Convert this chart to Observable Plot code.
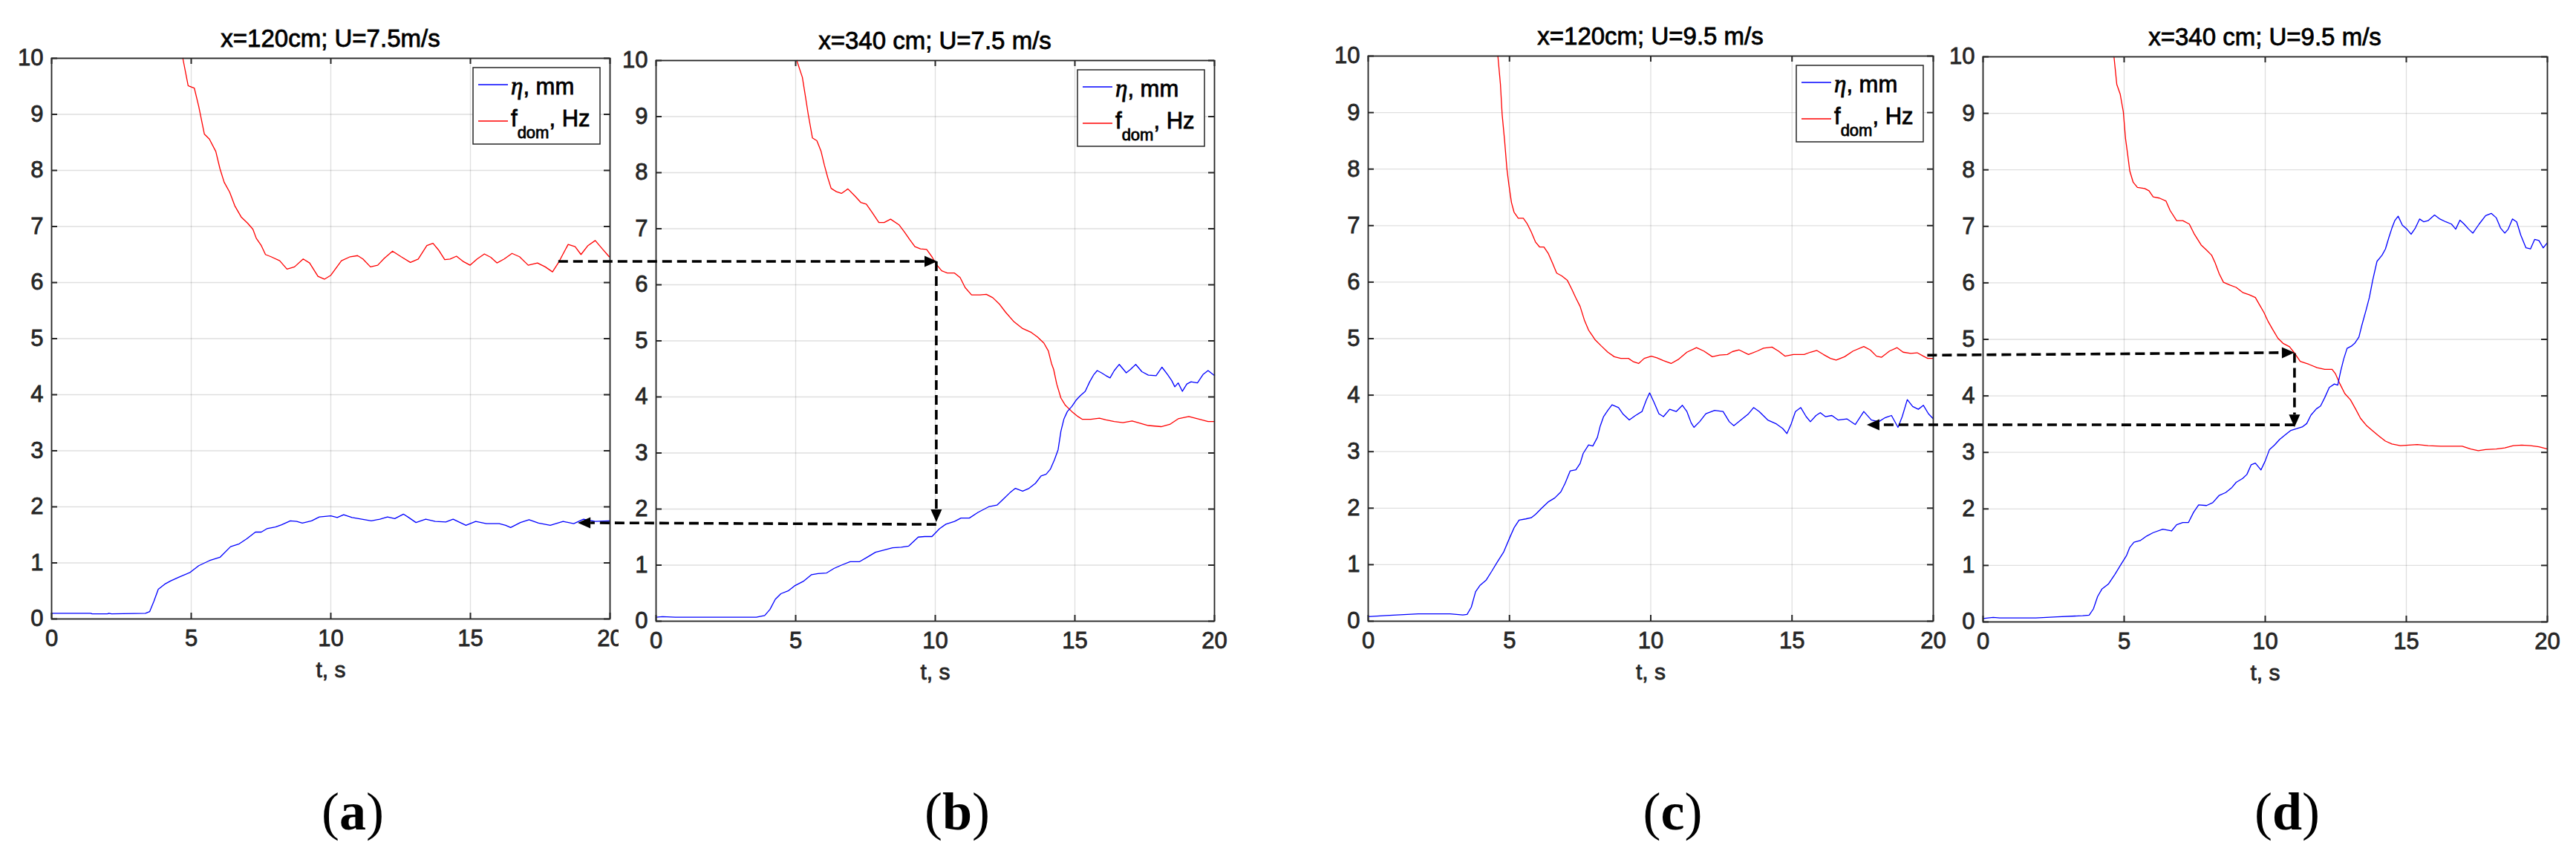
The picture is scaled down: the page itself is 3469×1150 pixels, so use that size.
<!DOCTYPE html>
<html>
<head>
<meta charset="utf-8">
<script src="https://cdn.jsdelivr.net/npm/d3@7"></script>
<script src="https://cdn.jsdelivr.net/npm/@observablehq/plot@0.6"></script>
<style>
  html, body { margin: 0; padding: 0; background: #fff; }
  #root { position: relative; width: 3469px; height: 1150px; overflow: hidden; background: #fff; }
  #root > svg { position: absolute; top: 0; }
</style>
</head>
<body>
<div id="root"></div>
<script>
// ---------------- DATA (t in s, value) ----------------
const titles = ["x=120cm; U=7.5m/s", "x=340 cm; U=7.5 m/s", "x=120cm; U=9.5 m/s", "x=340 cm; U=9.5 m/s"];
const panelLabels = ["a", "b", "c", "d"];
const xTicks = [0, 5, 10, 15, 20];
const yTicks = [0, 1, 2, 3, 4, 5, 6, 7, 8, 9, 10];

const a_f = [[4.70,10],[4.89,9.51],[5.11,9.47],[5.27,9.14],[5.47,8.65],[5.65,8.56],[5.88,8.34],[6.03,8.03],[6.18,7.79],[6.38,7.61],[6.56,7.37],[6.79,7.17],[7.02,7.06],[7.21,6.95],[7.33,6.79],[7.51,6.66],[7.66,6.50],[7.86,6.46],[8.17,6.39],[8.43,6.24],[8.70,6.28],[9.01,6.42],[9.24,6.35],[9.54,6.11],[9.77,6.06],[10.0,6.13],[10.38,6.39],[10.69,6.46],[10.96,6.48],[11.15,6.42],[11.42,6.28],[11.68,6.31],[11.91,6.43],[12.21,6.56],[12.52,6.46],[12.85,6.36],[13.13,6.42],[13.44,6.66],[13.66,6.70],[13.86,6.58],[14.08,6.41],[14.27,6.42],[14.50,6.47],[14.73,6.38],[14.99,6.31],[15.24,6.42],[15.50,6.51],[15.73,6.45],[15.95,6.35],[16.21,6.42],[16.49,6.52],[16.76,6.46],[17.07,6.31],[17.40,6.35],[17.68,6.28],[17.94,6.19],[18.17,6.37],[18.50,6.68],[18.75,6.64],[18.96,6.50],[19.21,6.66],[19.47,6.75],[19.69,6.62],[19.97,6.46]];
const a_eta = [[0,0.10],[1.4,0.10],[1.45,0.09],[2.0,0.09],[2.05,0.10],[2.15,0.09],[3.36,0.10],[3.51,0.13],[3.66,0.31],[3.82,0.53],[4.05,0.62],[4.27,0.68],[4.58,0.75],[4.96,0.83],[5.27,0.95],[5.65,1.04],[6.03,1.10],[6.41,1.29],[6.72,1.34],[6.99,1.43],[7.30,1.55],[7.51,1.55],[7.71,1.61],[8.02,1.64],[8.24,1.68],[8.55,1.75],[8.78,1.74],[8.98,1.71],[9.31,1.75],[9.59,1.82],[10.0,1.84],[10.23,1.81],[10.46,1.86],[10.76,1.81],[11.11,1.78],[11.45,1.75],[11.76,1.78],[12.03,1.82],[12.29,1.79],[12.60,1.87],[12.79,1.81],[13.05,1.72],[13.40,1.78],[13.74,1.74],[14.12,1.73],[14.38,1.78],[14.63,1.72],[14.84,1.67],[15.19,1.74],[15.57,1.70],[16.03,1.70],[16.26,1.67],[16.44,1.63],[16.79,1.72],[17.10,1.77],[17.44,1.71],[17.86,1.67],[18.32,1.74],[18.70,1.70],[19.05,1.78],[19.47,1.74],[19.97,1.75]];

const b_f = [[5.04,10],[5.24,9.70],[5.34,9.39],[5.45,9.04],[5.60,8.62],[5.76,8.57],[5.91,8.38],[6.03,8.13],[6.15,7.91],[6.27,7.72],[6.46,7.66],[6.64,7.63],[6.87,7.71],[7.13,7.58],[7.33,7.47],[7.53,7.44],[7.74,7.29],[7.98,7.11],[8.17,7.11],[8.40,7.17],[8.70,7.07],[8.90,6.94],[9.08,6.81],[9.27,6.68],[9.47,6.64],[9.69,6.63],[9.88,6.50],[10.03,6.37],[10.23,6.25],[10.43,6.21],[10.69,6.21],[10.89,6.13],[11.07,5.95],[11.30,5.82],[11.60,5.82],[11.83,5.83],[12.06,5.77],[12.29,5.66],[12.52,5.51],[12.82,5.34],[13.13,5.22],[13.44,5.15],[13.66,5.07],[13.89,4.96],[14.05,4.82],[14.16,4.60],[14.24,4.49],[14.35,4.23],[14.50,3.98],[14.66,3.85],[14.89,3.74],[15.11,3.65],[15.27,3.60],[15.57,3.60],[15.88,3.62],[16.11,3.59],[16.41,3.56],[16.72,3.54],[17.05,3.57],[17.33,3.53],[17.63,3.49],[18.09,3.47],[18.40,3.51],[18.70,3.61],[19.08,3.65],[19.39,3.61],[19.77,3.56],[20.0,3.56]];
const b_eta = [[0,0.07],[0.23,0.08],[0.69,0.07],[3.59,0.07],[3.89,0.10],[4.08,0.21],[4.27,0.39],[4.47,0.49],[4.73,0.54],[4.96,0.63],[5.27,0.71],[5.57,0.83],[5.80,0.85],[6.11,0.86],[6.37,0.94],[6.64,1.00],[6.95,1.06],[7.28,1.06],[7.56,1.14],[7.86,1.23],[8.17,1.27],[8.47,1.31],[8.78,1.32],[9.05,1.34],[9.39,1.50],[9.62,1.51],[9.88,1.51],[10.15,1.65],[10.38,1.73],[10.69,1.78],[10.92,1.84],[11.22,1.84],[11.53,1.94],[11.91,2.04],[12.21,2.07],[12.44,2.18],[12.67,2.29],[12.87,2.37],[13.13,2.32],[13.36,2.37],[13.59,2.46],[13.79,2.59],[13.97,2.62],[14.12,2.71],[14.27,2.88],[14.40,3.06],[14.50,3.39],[14.61,3.61],[14.73,3.74],[14.89,3.83],[15.04,3.94],[15.19,4.02],[15.37,4.10],[15.53,4.27],[15.68,4.40],[15.80,4.47],[15.95,4.43],[16.11,4.38],[16.26,4.34],[16.41,4.47],[16.59,4.58],[16.84,4.43],[16.99,4.49],[17.18,4.58],[17.40,4.45],[17.63,4.39],[17.91,4.38],[18.12,4.53],[18.32,4.40],[18.47,4.29],[18.58,4.18],[18.70,4.25],[18.85,4.10],[19.01,4.23],[19.16,4.27],[19.39,4.25],[19.59,4.40],[19.77,4.47],[20.0,4.38]];

const c_f = [[4.59,10],[4.68,9.50],[4.74,8.97],[4.83,8.49],[4.91,8.00],[4.98,7.72],[5.07,7.41],[5.16,7.24],[5.31,7.13],[5.49,7.13],[5.62,7.04],[5.77,6.89],[5.92,6.71],[6.07,6.62],[6.22,6.62],[6.37,6.51],[6.52,6.34],[6.67,6.16],[6.85,6.11],[7.05,6.03],[7.20,5.88],[7.35,5.72],[7.50,5.57],[7.65,5.33],[7.80,5.15],[7.95,5.04],[8.03,4.98],[8.25,4.87],[8.48,4.76],[8.71,4.68],[8.94,4.65],[9.21,4.65],[9.39,4.59],[9.57,4.56],[9.77,4.65],[10.02,4.69],[10.22,4.66],[10.45,4.61],[10.72,4.56],[10.97,4.63],[11.28,4.76],[11.62,4.84],[11.88,4.78],[12.18,4.68],[12.44,4.71],[12.71,4.72],[12.89,4.77],[13.13,4.80],[13.46,4.72],[13.77,4.78],[13.99,4.83],[14.29,4.85],[14.52,4.78],[14.75,4.69],[15.05,4.72],[15.43,4.72],[15.65,4.76],[15.88,4.79],[16.11,4.72],[16.36,4.65],[16.56,4.62],[16.86,4.68],[17.16,4.78],[17.54,4.86],[17.77,4.80],[17.99,4.69],[18.17,4.67],[18.45,4.78],[18.72,4.84],[18.93,4.76],[19.20,4.74],[19.43,4.75],[19.65,4.69],[19.80,4.65],[20.0,4.65]];
const c_eta = [[0,0.08],[0.63,0.10],[1.01,0.11],[1.77,0.13],[2.90,0.13],[3.35,0.11],[3.50,0.12],[3.65,0.25],[3.80,0.52],[3.95,0.63],[4.18,0.73],[4.38,0.89],[4.56,1.04],[4.79,1.22],[5.01,1.48],[5.16,1.65],[5.34,1.79],[5.58,1.81],[5.77,1.83],[5.92,1.89],[6.14,2.00],[6.37,2.11],[6.60,2.18],[6.82,2.29],[6.97,2.44],[7.15,2.66],[7.35,2.68],[7.50,2.79],[7.61,2.97],[7.80,3.12],[7.95,3.10],[8.11,3.25],[8.21,3.45],[8.33,3.62],[8.48,3.73],[8.63,3.83],[8.86,3.78],[9.01,3.67],[9.24,3.56],[9.46,3.64],[9.69,3.71],[9.84,3.91],[9.96,4.04],[10.11,3.88],[10.29,3.67],[10.45,3.62],[10.67,3.75],[10.90,3.71],[11.12,3.82],[11.28,3.71],[11.43,3.51],[11.53,3.43],[11.73,3.53],[11.95,3.67],[12.26,3.73],[12.56,3.71],[12.78,3.53],[12.94,3.46],[13.24,3.58],[13.46,3.67],[13.64,3.78],[13.84,3.71],[14.14,3.56],[14.45,3.49],[14.67,3.41],[14.82,3.32],[14.97,3.49],[15.12,3.71],[15.31,3.78],[15.50,3.62],[15.65,3.53],[15.85,3.64],[16.00,3.69],[16.18,3.62],[16.41,3.64],[16.63,3.56],[16.94,3.58],[17.24,3.48],[17.54,3.71],[17.81,3.56],[18.07,3.53],[18.29,3.60],[18.52,3.64],[18.75,3.43],[18.90,3.62],[19.08,3.92],[19.27,3.80],[19.47,3.75],[19.65,3.82],[19.83,3.67],[20.0,3.58]];

const d_f = [[4.64,10],[4.74,9.51],[4.86,9.34],[4.97,9.03],[5.05,8.55],[5.12,8.29],[5.20,7.98],[5.32,7.78],[5.47,7.69],[5.73,7.67],[5.88,7.63],[6.03,7.52],[6.25,7.50],[6.48,7.45],[6.63,7.28],[6.86,7.10],[7.08,7.10],[7.31,7.04],[7.49,6.86],[7.73,6.67],[7.92,6.58],[8.10,6.49],[8.22,6.36],[8.37,6.16],[8.52,6.01],[8.75,5.96],[8.97,5.92],[9.20,5.83],[9.43,5.79],[9.65,5.74],[9.80,5.61],[9.95,5.48],[10.11,5.31],[10.26,5.18],[10.45,5.02],[10.63,4.93],[10.86,4.87],[11.05,4.75],[11.24,4.61],[11.54,4.56],[11.84,4.50],[12.11,4.47],[12.37,4.47],[12.49,4.39],[12.63,4.23],[12.82,4.04],[13.02,3.93],[13.20,3.77],[13.38,3.60],[13.58,3.48],[13.81,3.38],[14.03,3.29],[14.26,3.20],[14.49,3.15],[14.79,3.12],[15.09,3.13],[15.39,3.14],[15.77,3.12],[16.22,3.11],[16.60,3.11],[16.98,3.11],[17.28,3.06],[17.55,3.03],[17.81,3.05],[18.19,3.06],[18.49,3.08],[18.79,3.12],[19.09,3.13],[19.40,3.12],[19.70,3.10],[20.0,3.06]];
const d_eta = [[0,0.06],[0.36,0.08],[0.59,0.07],[1.87,0.07],[2.63,0.09],[3.53,0.11],[3.76,0.12],[3.91,0.23],[4.06,0.45],[4.21,0.58],[4.44,0.67],[4.67,0.84],[4.89,1.02],[5.08,1.17],[5.20,1.32],[5.35,1.41],[5.57,1.44],[5.80,1.52],[6.03,1.58],[6.37,1.64],[6.68,1.61],[6.86,1.72],[7.08,1.76],[7.28,1.76],[7.46,1.94],[7.64,2.07],[7.92,2.06],[8.14,2.11],[8.37,2.24],[8.60,2.29],[8.82,2.38],[8.97,2.47],[9.20,2.54],[9.35,2.61],[9.50,2.78],[9.65,2.81],[9.85,2.69],[10.0,2.85],[10.15,3.05],[10.33,3.13],[10.51,3.23],[10.71,3.31],[10.91,3.39],[11.12,3.42],[11.31,3.45],[11.47,3.51],[11.62,3.66],[11.81,3.77],[11.96,3.82],[12.11,3.97],[12.27,4.15],[12.45,4.21],[12.57,4.19],[12.67,4.43],[12.78,4.65],[12.90,4.84],[13.05,4.88],[13.17,4.93],[13.32,5.04],[13.43,5.26],[13.58,5.53],[13.69,5.74],[13.81,6.05],[13.96,6.38],[14.14,6.49],[14.26,6.60],[14.38,6.80],[14.49,6.97],[14.59,7.10],[14.71,7.18],[14.86,7.02],[15.02,6.95],[15.17,6.86],[15.32,6.97],[15.47,7.13],[15.62,7.08],[15.77,7.10],[16.00,7.20],[16.19,7.13],[16.40,7.08],[16.60,7.04],[16.75,6.95],[16.90,7.11],[17.05,7.04],[17.21,6.95],[17.36,6.88],[17.58,7.04],[17.81,7.19],[18.01,7.23],[18.19,7.15],[18.34,6.97],[18.49,6.88],[18.61,6.95],[18.76,7.13],[18.91,7.08],[19.06,6.84],[19.24,6.62],[19.40,6.60],[19.55,6.77],[19.70,6.75],[19.85,6.62],[20.0,6.71]];

// dashed arrows: [fromPanel, t, value, toPanel, t, value] (head at the "to" end)
const arrowsData = [
  [0, 18.16, 6.37, 1, 10.08, 6.41],
  [1, 10.05, 6.41, 1, 10.05, 1.76],
  [1, 10.05, 1.72, 0, 18.86, 1.71],
  [2, 19.80, 4.70, 3, 11.05, 4.76],
  [3, 11.05, 4.75, 3, 11.05, 3.44],
  [3, 11.05, 3.48, 2, 17.66, 3.47]
];
const etaSeries = [a_eta, b_eta, c_eta, d_eta];
const fSeries = [a_f, b_f, c_f, d_f];
const hasLegend = [true, true, true, false];

// ---------------- LAYOUT (pixels) ----------------
const layout = [
  {L: 69,   R: 821,  T: 78, B: 833, sL: 0},
  {L: 883,  R: 1635, T: 81, B: 836, sL: 833},
  {L: 1842, R: 2603, T: 75, B: 836, sL: 1780},
  {L: 2670, R: 3430, T: 76, B: 837, sL: 2625}
];
const SVG_H = 945;
const FONT = "'Liberation Sans', Arial, Helvetica, sans-serif";
const SERIF = "'Liberation Serif', 'Times New Roman', serif";
const AX = "#262626";
const TXT_STROKE = 0.8;

const root = document.getElementById("root");
const charts = [];

layout.forEach((p, i) => {
  const mR = 30;
  const W = p.R - p.sL + mR;
  const fw = p.R - p.L, fh = p.B - p.T;
  const tickStyle = {stroke: AX, strokeWidth: 2};
  const chart = Plot.plot({
    width: W, height: SVG_H,
    marginLeft: p.L - p.sL, marginRight: mR, marginTop: p.T, marginBottom: SVG_H - p.B,
    x: {domain: [0, 20], label: null},
    y: {domain: [0, 10], label: null},
    style: {background: "white", fontFamily: FONT, color: AX, overflow: "visible"},
    marks: [
      Plot.gridX(xTicks, {stroke: AX, strokeOpacity: 0.15, strokeWidth: 1.3}),
      Plot.gridY(yTicks, {stroke: AX, strokeOpacity: 0.15, strokeWidth: 1.3}),
      Plot.line(fSeries[i], {x: d => d[0], y: d => d[1], stroke: "#ff0000", strokeWidth: 1.3}),
      Plot.line(etaSeries[i], {x: d => d[0], y: d => d[1], stroke: "#0000ff", strokeWidth: 1.3}),
      Plot.ruleX(xTicks, {...tickStyle, insetTop: fh - 8}),
      Plot.ruleX(xTicks, {...tickStyle, insetBottom: fh - 8}),
      Plot.ruleY(yTicks, {...tickStyle, insetRight: fw - 8}),
      Plot.ruleY(yTicks, {...tickStyle, insetLeft: fw - 8}),
      Plot.frame({stroke: AX, strokeWidth: 1.8}),
      Plot.axisX(xTicks, {tickSize: 0, tickPadding: 14, tickFormat: d => String(d), fontSize: 31, fill: AX, label: null}),
      Plot.axisY(yTicks, {tickSize: 0, tickPadding: 11, tickFormat: d => String(d), fontSize: 31, fill: AX, label: null}),
      Plot.text(["t, s"], {frameAnchor: "bottom", dy: 78, fontSize: 30, fill: AX})
    ]
  });
  d3.select(chart).selectAll("text").attr("stroke", AX).attr("stroke-width", TXT_STROKE);
  chart.style.left = p.sL + "px";
  chart.style.top = "0px";
  chart.style.maxWidth = "none";
  root.appendChild(chart);
  charts.push(chart);
});

// ---------------- OVERLAY: titles, legends, arrows, labels ----------------
const ov = d3.select(root).append("svg")
  .attr("width", 3469).attr("height", 1150)
  .style("left", "0px").style("top", "0px").style("pointer-events", "none");

const px = (i, t) => layout[i].sL + charts[i].scale("x").apply(t);
const py = (i, v) => charts[i].scale("y").apply(v);

layout.forEach((p, i) => {
  const cx = px(i, 10);
  ov.append("text").attr("x", cx).attr("y", p.T - 15)
    .attr("text-anchor", "middle").attr("font-family", FONT).attr("font-size", 33)
    .attr("fill", "#000").attr("stroke", "#000").attr("stroke-width", TXT_STROKE).text(titles[i]);

  const lab = ov.append("text").attr("x", cx + 30).attr("y", 1117)
    .attr("text-anchor", "middle").attr("font-family", SERIF).attr("font-size", 72).attr("fill", "#000");
  lab.append("tspan").text("(");
  lab.append("tspan").attr("font-weight", "bold").text(panelLabels[i]);
  lab.append("tspan").text(")");

  if (hasLegend[i]) {
    const w = 171, h = 103;
    const x0 = p.R - 13 - w, y0 = p.T + 13;
    const g = ov.append("g");
    g.append("rect").attr("x", x0).attr("y", y0).attr("width", w).attr("height", h)
      .attr("fill", "#fff").attr("stroke", AX).attr("stroke-width", 1.5);
    g.append("line").attr("x1", x0 + 7).attr("x2", x0 + 47).attr("y1", y0 + 23).attr("y2", y0 + 23)
      .attr("stroke", "#0000ff").attr("stroke-width", 1.5);
    g.append("line").attr("x1", x0 + 7).attr("x2", x0 + 47).attr("y1", y0 + 72).attr("y2", y0 + 72)
      .attr("stroke", "#ff0000").attr("stroke-width", 1.5);
    const t1 = g.append("text").attr("x", x0 + 51).attr("y", y0 + 36)
      .attr("font-family", FONT).attr("font-size", 31).attr("fill", "#000")
      .attr("stroke", "#000").attr("stroke-width", TXT_STROKE);
    t1.append("tspan").attr("font-family", SERIF).attr("font-style", "italic").attr("font-size", 33).text("η");
    t1.append("tspan").text(", mm");
    const t2 = g.append("text").attr("x", x0 + 51).attr("y", y0 + 79)
      .attr("font-family", FONT).attr("font-size", 31).attr("fill", "#000")
      .attr("stroke", "#000").attr("stroke-width", TXT_STROKE);
    t2.append("tspan").text("f");
    t2.append("tspan").attr("font-size", 22).attr("dy", 16).text("dom");
    t2.append("tspan").attr("dy", -16).text(", Hz");
  }
});

// arrows
const ag = ov.append("g");
arrowsData.forEach(([i1, t1, v1, i2, t2, v2]) => {
  const x1 = px(i1, t1), y1 = py(i1, v1), x2 = px(i2, t2), y2 = py(i2, v2);
  const dx = x2 - x1, dy = y2 - y1, len = Math.hypot(dx, dy);
  const ux = dx / len, uy = dy / len;
  const hl = 17, hw = 7.5;
  const bx = x2 - ux * hl, by = y2 - uy * hl;
  ag.append("line").attr("x1", x1).attr("y1", y1).attr("x2", bx).attr("y2", by)
    .attr("stroke", "#000").attr("stroke-width", 3.6).attr("stroke-dasharray", "13,7");
  ag.append("path")
    .attr("d", `M${x2},${y2}L${bx - uy * hw},${by + ux * hw}L${bx + uy * hw},${by - ux * hw}Z`)
    .attr("fill", "#000");
});
</script>
</body>
</html>
